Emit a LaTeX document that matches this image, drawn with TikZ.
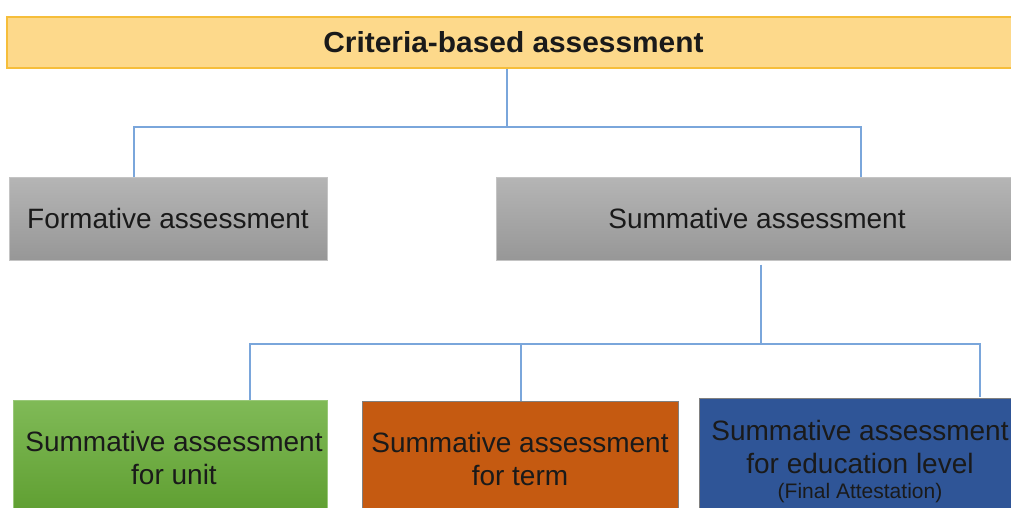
\documentclass[tikz,border=0pt]{standalone}
\usepackage{fontspec}
\setmainfont{Liberation Sans}
\definecolor{topfill}{HTML}{FDD98B}
\definecolor{topline}{HTML}{F6BE3A}
\definecolor{conn}{HTML}{7AA6DB}
\definecolor{grayA}{HTML}{B5B5B5}
\definecolor{grayB}{HTML}{979797}
\definecolor{grayline}{HTML}{C4C4C4}
\definecolor{greenA}{HTML}{80BA57}
\definecolor{greenB}{HTML}{5E9E30}
\definecolor{orangefill}{HTML}{C55A11}
\definecolor{bluefill}{HTML}{2F5597}
\definecolor{txt}{HTML}{1A1A1A}
\begin{document}
\begin{tikzpicture}[x=1pt,y=-1pt,
  box/.style={rectangle, inner sep=0pt, align=center, text=txt,
    font=\fontsize{28}{33}\selectfont},
  graybox/.style={box, draw=grayline, line width=1pt, top color=grayA, bottom color=grayB,
    minimum height=83pt},
  conline/.style={draw=conn, line width=1.6pt}]
\clip (0,0) rectangle (1011,508);
\fill[white] (0,0) rectangle (1011,508);
\node[box, draw=topline, line width=2pt, fill=topfill, minimum width=1013pt, minimum height=51pt,
  font=\bfseries\fontsize{29}{33}\selectfont] (top) at (513.5,42.5) {\scalebox{1.03}[1]{Criteria-based assessment}};
\node[graybox, minimum width=318pt] (form) at (168,218.5) {Formative assessment};
\node[graybox, minimum width=522pt] (summ) at (757,218.5) {Summative assessment};
\node[box, draw=greenA!80!white, line width=1pt, top color=greenA, bottom color=greenB,
  minimum width=314pt, minimum height=116pt] (unit) at (170,458) {\hspace*{8pt}Summative assessment\\\hspace*{8pt}for unit};
\node[box, draw=gray, line width=1pt, fill=orangefill,
  minimum width=316pt, minimum height=116pt] (term) at (520,459) {Summative assessment\\for term};
\node[box, draw=gray, line width=1pt, fill=bluefill,
  minimum width=322pt, minimum height=128pt] (level) at (860,462)
  {Summative assessment\\for education level\\[-8pt]{\fontsize{21}{24}\selectfont (Final Attestation)}};
% connector points
\coordinate (j1) at (507,127);
\coordinate (fa) at (134,177);
\coordinate (sa) at (861,177);
\coordinate (j2) at (761,344);
\coordinate (ua) at (250,400);
\coordinate (ta) at (521,401);
\coordinate (la) at (980,397);
\draw[conline] (top.south -| j1) -- (j1);
\draw[conline] (fa) |- (j1) -| (sa);
\draw[conline] (summ.south -| j2) ++(0,4) -- (j2);
\draw[conline] (ua) |- (j2) -| (la);
\draw[conline] (ta) -- (ta |- j2);
\end{tikzpicture}
\end{document}
